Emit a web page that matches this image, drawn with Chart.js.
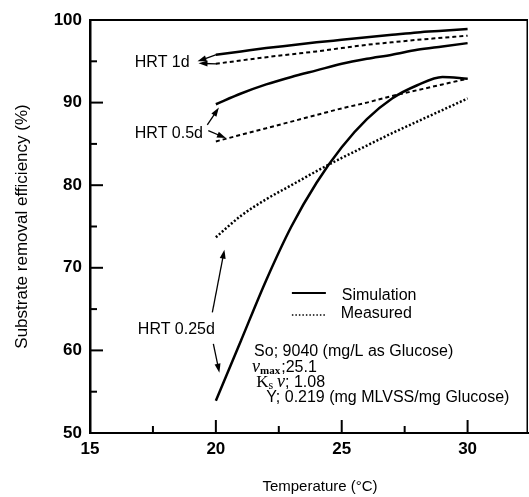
<!DOCTYPE html>
<html>
<head>
<meta charset="utf-8">
<script src="https://cdn.jsdelivr.net/npm/chart.js@4.4.0/dist/chart.umd.min.js"></script>
<style>
  html, body { margin: 0; padding: 0; background: #fff; }
</style>
</head>
<body>
<canvas id="chart" width="529" height="497"></canvas>
<script>
// temperatures (deg C) the curves are read at
const temps = [20, 21, 22, 23, 24, 25, 26, 27, 28, 29, 30];

// HRT 1d
const sim1d  = [95.8, 96.2, 96.6, 96.95, 97.3, 97.6, 97.9, 98.2, 98.5, 98.7, 98.9];
const meas1d = [94.7, 95.1, 95.5, 95.85, 96.2, 96.6, 97.0, 97.3, 97.6, 97.85, 98.1];
// HRT 0.5d
const sim05d  = [89.8, 91.1, 92.2, 93.1, 93.9, 94.7, 95.3, 95.8, 96.4, 96.8, 97.2];
const meas05d = [85.3, 86.1, 86.9, 87.7, 88.5, 89.3, 90.0, 90.8, 91.5, 92.2, 92.9];
// HRT 0.25d
const sim025d  = [53.9, 61.2, 68.5, 75.0, 80.3, 84.6, 88.0, 90.5, 92.1, 93.1, 92.9];
const meas025d = [73.7, 76.3, 78.3, 80.0, 81.7, 83.3, 84.8, 86.3, 87.7, 89.1, 90.5];

const xTicks = [15, 17.5, 20, 22.5, 25, 27.5, 30];
const xLabels = [15, 20, 25, 30];
const yTicks = [50, 55, 60, 65, 70, 75, 80, 85, 90, 95, 100];
const yLabels = [50, 60, 70, 80, 90, 100];

// annotation texts, anchored in data units
const hrtNames = ['HRT 1d', 'HRT 0.5d', 'HRT 0.25d'];
const hrtAt = [[16.78, 94.8], [16.78, 86.2], [16.9, 62.5]];
// arrows: tail -> head (data units)
const arrowFrom = [[20.02, 95.8], [20.02, 94.7], [19.66, 87.3], [19.7, 86.6], [19.86, 64.6], [19.9, 60.8]];
const arrowTo   = [[19.27, 95.0], [19.31, 94.75], [20.12, 89.4], [20.4, 85.7], [20.34, 72.2], [20.14, 57.3]];

const SANS = '"Liberation Sans", Arial, sans-serif';
const SERIF = '"Liberation Serif", "Times New Roman", serif';

function pts(ys) {
    return temps.map((t, i) => ({ x: t, y: ys[i] }));
}

function ds(label, ys, dash, width) {
    return {
        label: label,
        data: pts(ys),
        borderColor: '#000',
        borderWidth: width,
        borderDash: dash,
        pointRadius: 0,
        showLine: true,
        fill: false,
        cubicInterpolationMode: 'monotone'
    };
}

function drawArrow(ctx, x1, y1, x2, y2) {
    const a = Math.atan2(y2 - y1, x2 - x1);
    const len = 9, half = 3;
    ctx.beginPath();
    ctx.moveTo(x1, y1);
    ctx.lineTo(x2 - Math.cos(a) * len * 0.6, y2 - Math.sin(a) * len * 0.6);
    ctx.stroke();
    ctx.beginPath();
    ctx.moveTo(x2, y2);
    ctx.lineTo(x2 - Math.cos(a) * len - Math.sin(a) * half, y2 - Math.sin(a) * len + Math.cos(a) * half);
    ctx.lineTo(x2 - Math.cos(a) * len + Math.sin(a) * half, y2 - Math.sin(a) * len - Math.cos(a) * half);
    ctx.closePath();
    ctx.fill();
}

// text made of runs in different fonts
function drawRuns(ctx, x, y, runs) {
    runs.forEach(r => {
        ctx.font = r.f;
        ctx.fillText(r.t, x, y + (r.dy || 0));
        x += ctx.measureText(r.t).width + (r.gap || 0);
    });
}

const extras = {
    id: 'extras',
    afterDraw(chart) {
        const { ctx, chartArea: ca, scales: { x, y } } = chart;
        ctx.save();
        ctx.setLineDash([]);
        ctx.strokeStyle = '#000';
        ctx.fillStyle = '#000';

        // inward ticks
        ctx.lineWidth = 2;
        yTicks.forEach(v => {
            const ty = y.getPixelForValue(v);
            const l = yLabels.includes(v) ? 13 : 7;
            ctx.beginPath();
            ctx.moveTo(ca.left, ty);
            ctx.lineTo(ca.left + l, ty);
            ctx.stroke();
        });
        xTicks.forEach(v => {
            const tx = x.getPixelForValue(v);
            const l = xLabels.includes(v) ? 13 : 7;
            ctx.beginPath();
            ctx.moveTo(tx, ca.bottom);
            ctx.lineTo(tx, ca.bottom - l);
            ctx.stroke();
        });

        // HRT labels and arrows
        ctx.textBaseline = 'middle';
        ctx.textAlign = 'left';
        ctx.font = '16px ' + SANS;
        hrtNames.forEach((t, i) => {
            ctx.fillText(t, x.getPixelForValue(hrtAt[i][0]), y.getPixelForValue(hrtAt[i][1]));
        });
        ctx.lineWidth = 1.3;
        arrowFrom.forEach((f, i) => {
            drawArrow(ctx,
                x.getPixelForValue(f[0]), y.getPixelForValue(f[1]),
                x.getPixelForValue(arrowTo[i][0]), y.getPixelForValue(arrowTo[i][1]));
        });

        // legend
        const lx0 = x.getPixelForValue(23.02), lx1 = x.getPixelForValue(24.37);
        const ly1 = y.getPixelForValue(66.95), ly2 = y.getPixelForValue(64.3);
        ctx.lineWidth = 2;
        ctx.beginPath();
        ctx.moveTo(lx0, ly1);
        ctx.lineTo(lx1, ly1);
        ctx.stroke();
        ctx.setLineDash([1.5, 2]);
        ctx.lineWidth = 1.5;
        ctx.beginPath();
        ctx.moveTo(lx0, ly2);
        ctx.lineTo(lx1, ly2);
        ctx.stroke();
        ctx.setLineDash([]);
        ctx.font = '16px ' + SANS;
        ctx.fillText('Simulation', x.getPixelForValue(25.0), y.getPixelForValue(66.6));
        ctx.fillText('Measured', x.getPixelForValue(24.96), y.getPixelForValue(64.5));

        // model parameters
        ctx.textBaseline = 'alphabetic';
        const px = v => x.getPixelForValue(v);
        const py = v => y.getPixelForValue(v) + 6;
        drawRuns(ctx, px(21.52), py(60.05), [{ t: 'So; 9040 (mg/L as Glucose)', f: '16px ' + SANS }]);
        drawRuns(ctx, px(21.44), py(58.1), [
            { t: 'ν', f: 'italic 18px ' + SERIF },
            { t: 'max', f: 'bold 11px ' + SERIF, dy: 2, gap: 1 },
            { t: ';25.1', f: '16px ' + SANS }
        ]);
        drawRuns(ctx, px(21.6), py(56.3), [
            { t: 'K', f: '17px ' + SERIF },
            { t: 's', f: '12px ' + SERIF, dy: 2, gap: 4 },
            { t: 'ν', f: 'italic 18px ' + SERIF },
            { t: '; 1.08', f: '16px ' + SANS }
        ]);
        drawRuns(ctx, px(22.0), py(54.5), [{ t: 'Y; 0.219 (mg MLVSS/mg Glucose)', f: '16px ' + SANS }]);

        // x axis title
        ctx.textAlign = 'center';
        ctx.textBaseline = 'middle';
        ctx.font = '15px ' + SANS;
        ctx.fillText('Temperature (°C)', 320, 487);

        // frame: top and right, drawn last
        const top = y.getPixelForValue(100);
        const right = x.getPixelForValue(32.4);
        ctx.fillStyle = '#000';
        ctx.fillRect(ca.left, top - 1, right - ca.left, 2);
        ctx.fillRect(right - 1.5, top, 1.5, ca.bottom - top);
        ctx.restore();
    }
};

const chart = new Chart(document.getElementById('chart'), {
    type: 'scatter',
    data: {
        datasets: [
            ds('Simulation 1d', sim1d, [], 2.5),
            ds('Measured 1d', meas1d, [4, 3], 2),
            ds('Simulation 0.5d', sim05d, [], 2.5),
            ds('Measured 0.5d', meas05d, [4, 3], 2),
            ds('Simulation 0.25d', sim025d, [], 2.5),
            ds('Measured 0.25d', meas025d, [2, 2], 2.5)
        ]
    },
    options: {
        responsive: false,
        animation: false,
        layout: { padding: { top: 20, right: 1, left: 0, bottom: 0 } },
        plugins: {
            legend: { display: false },
            tooltip: { enabled: false }
        },
        scales: {
            x: {
                type: 'linear',
                min: 15,
                max: 32.4,
                afterBuildTicks: s => { s.ticks = xTicks.map(v => ({ value: v })); },
                afterFit: s => { s.height = 64; },
                grid: { display: false, drawTicks: false },
                border: { display: true, color: '#000', width: 2 },
                ticks: {
                    color: '#000',
                    padding: 6,
                    maxRotation: 0,
                    autoSkip: false,
                    font: { family: SANS, size: 17, weight: 'bold' },
                    callback: v => xLabels.includes(v) ? String(v) : ''
                }
            },
            y: {
                min: 50,
                max: 100,
                afterBuildTicks: s => { s.ticks = yTicks.map(v => ({ value: v })); },
                afterFit: s => { s.width = 90; },
                grid: { display: false, drawTicks: false },
                border: { display: true, color: '#000', width: 2.5 },
                ticks: {
                    color: '#000',
                    padding: 8,
                    autoSkip: false,
                    font: { family: SANS, size: 17, weight: 'bold' },
                    callback: v => yLabels.includes(v) ? String(v) : ''
                },
                title: {
                    display: true,
                    text: 'Substrate removal efficiency (%)',
                    color: '#000',
                    font: { family: SANS, size: 17 },
                    padding: { top: 12, bottom: 0 }
                }
            }
        }
    },
    plugins: [extras]
});
</script>
</body>
</html>
